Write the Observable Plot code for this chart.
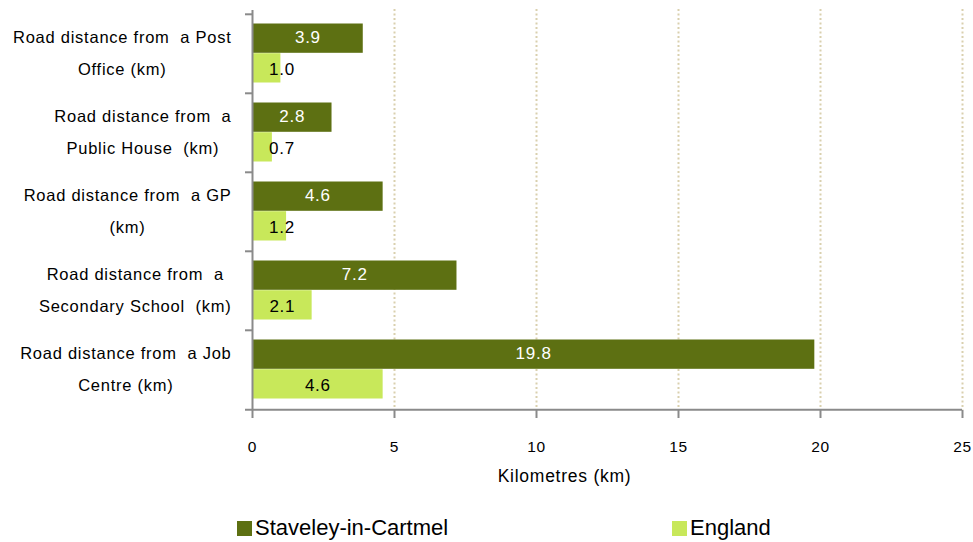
<!DOCTYPE html>
<html><head><meta charset="utf-8">
<script src="https://cdn.jsdelivr.net/npm/d3@7"></script>
<script src="https://cdn.jsdelivr.net/npm/@observablehq/plot@0.6"></script>
<style>
body{margin:0;background:#fff;font-family:"Liberation Sans",Arial,sans-serif;}
#wrap{position:relative;width:973px;height:542px;overflow:hidden;}
#wrap svg text{white-space:pre;letter-spacing:0.75px;}
.leg{position:absolute;top:517px;font-size:22px;display:flex;align-items:flex-start;color:#000;line-height:22px}
.sw{width:15px;height:15px;margin-right:3px;margin-top:4px}
</style></head><body><div id="wrap"></div>
<script>
const categories = [
  "Road distance from  a Post\nOffice (km)",
  "Road distance from  a\nPublic House  (km)",
  "Road distance from  a GP\n(km)",
  "Road distance from  a\nSecondary School  (km)",
  "Road distance from  a Job\nCentre (km)"
];
const seriesNames = ["Staveley-in-Cartmel", "England"];
const staveley = [3.9, 2.8, 4.6, 7.2, 19.8];
const england = [1.0, 0.7, 1.2, 2.1, 4.6];
const xTicks = [0, 5, 10, 15, 20, 25];
const axisTitle = "Kilometres (km)";

const colors = {dark: "#5d7012", light: "#c8e85a"};
const W = 973, H = 505, mL = 252, mR = 11, mT = 13, mB = 95;
const bw = (H - mT - mB) / categories.length;
const barH = (bw - 20) / 2;

const rows = categories.map((c, i) => ({category: c, staveley: staveley[i], england: england[i]}));

// measure label widths to center each line within a right-aligned block
const ctx = document.createElement("canvas").getContext("2d");
ctx.font = "16.5px 'Liberation Sans'";
function blockWidth(t) {
  return Math.max(...t.split("\n").map(s => ctx.measureText(s).width + 0.75 * s.length));
}
const xs = d3.scaleLinear([0, 25], [mL, W - mR]);
const labelX = d => xs.invert(231 - blockWidth(d.category) / 2);
// value labels stay clear of the axis (as in the source chart)
const minLabelX = xs.invert(mL + 29.5);
const valX = v => Math.max(v / 2, minLabelX);

const plot = Plot.plot({
  width: W, height: H,
  marginLeft: mL, marginRight: mR, marginTop: mT, marginBottom: mB,
  style: {fontFamily: "'Liberation Sans', Arial, sans-serif", background: "#fff", overflow: "visible"},
  x: {domain: [0, 25], axis: null},
  y: {domain: categories, paddingInner: 0, paddingOuter: 0, axis: null},
  marks: [
    Plot.gridX(xTicks.slice(1), {stroke: "#d9d0ae", strokeOpacity: 1, strokeWidth: 2, strokeDasharray: "2,2.5", insetTop: -4}),
    Plot.barX(rows, {x: "staveley", y: "category", fill: colors.dark, insetTop: 9.5, insetBottom: bw - 9.5 - barH}),
    Plot.barX(rows, {x: "england", y: "category", fill: colors.light, insetTop: 9.5 + barH, insetBottom: 10.5}),
    Plot.text(rows, {x: d => valX(d.staveley), y: "category", text: d => d.staveley.toFixed(1), fill: "white", fontSize: 17, dy: -(bw / 2 - 9.5 - barH / 2) - 1.5}),
    Plot.text(rows, {x: d => valX(d.england), y: "category", text: d => d.england.toFixed(1), fill: "black", fontSize: 17, dy: (bw / 2 - 10.5 - barH / 2) + 1}),
    Plot.ruleX([0], {stroke: "#8a8a8a", strokeWidth: 2, insetTop: -3}),
    Plot.ruleY(categories, {y: d => d, x1: 0, x2: 0, insetLeft: -7, dy: -bw / 2, stroke: "#8a8a8a", strokeWidth: 2}),
    Plot.ruleY(categories.slice(-1), {y: d => d, insetLeft: -7, dy: bw / 2, stroke: "#8a8a8a", strokeWidth: 2}),
    Plot.axisX({ticks: xTicks, tickSize: 8, tickPadding: 22, stroke: "#8a8a8a", strokeWidth: 2, fill: "black", fontSize: 15.5, label: null, tickFormat: d => String(d)}),
    Plot.text(rows, {x: labelX, y: "category", text: "category", textAnchor: "middle", lineHeight: 1.94, fontSize: 16.5, fill: "black", dy: -5}),
    Plot.text([axisTitle], {frameAnchor: "bottom", text: d => d, dx: -43, dy: 71, fontSize: 17.5, fill: "black"})
  ]
});
const wrap = document.getElementById("wrap");
wrap.appendChild(plot);

// legend
const legendItems = [
  {name: seriesNames[0], color: colors.dark, left: 237},
  {name: seriesNames[1], color: colors.light, left: 672}
];
for (const it of legendItems) {
  const d = document.createElement("div");
  d.className = "leg";
  d.style.left = it.left + "px";
  d.innerHTML = `<span class="sw" style="background:${it.color}"></span><span>${it.name}</span>`;
  wrap.appendChild(d);
}
</script></body></html>
